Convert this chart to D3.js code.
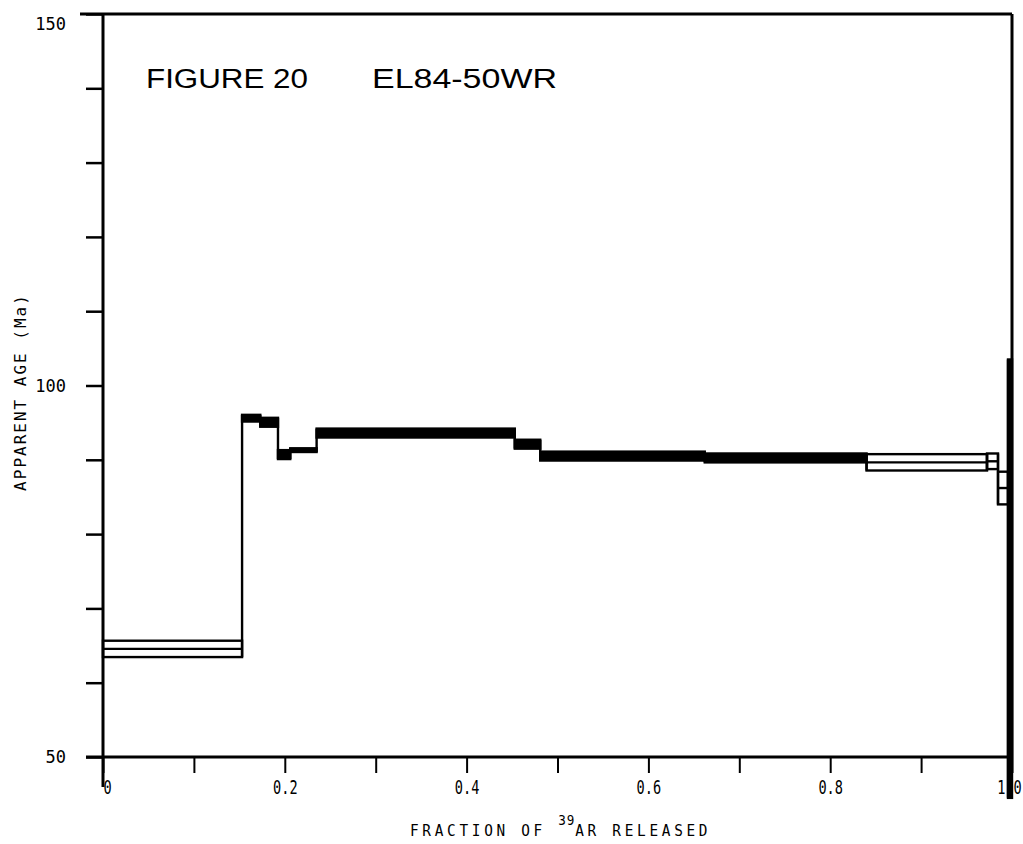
<!DOCTYPE html>
<html>
<head>
<meta charset="utf-8">
<script src="https://cdn.jsdelivr.net/npm/d3@7"></script>
<style>
  html, body { margin: 0; padding: 0; background: #fff; }
  svg { display: block; }
</style>
</head>
<body>
<div id="chart"></div>
<script>
// ---- data ----
const stepBounds = [0, 0.153, 0.173, 0.1925, 0.206, 0.235, 0.453, 0.481, 0.662, 0.840, 0.9725, 0.9846, 0.9956, 1.0];
const stepAges   = [64.55, 95.6, 95.05, 90.7, 91.3, 93.6, 92.1, 90.5, 90.25, 89.66, 89.8, 86.2, 74.0];
const stepErrors = [1.1, 0.45, 0.6, 0.6, 0.25, 0.6, 0.6, 0.6, 0.6, 1.1, 1.05, 2.2, 29.5];
const xTickValues = [0, 0.1, 0.2, 0.3, 0.4, 0.5, 0.6, 0.7, 0.8, 0.9, 1.0];
const xTickLabels = ["0", "", "0.2", "", "0.4", "", "0.6", "", "0.8", "", "1.0"];
const yTickValues = [50, 60, 70, 80, 90, 100, 110, 120, 130, 140, 150];
const yTickLabels = ["50", "", "", "", "", "100", "", "", "", "", "150"];
const figureTitle = "FIGURE 20";
const sampleName = "EL84-50WR";
const xTitleA = "FRACTION OF ";
const xTitleSup = "39";
const xTitleB = "AR RELEASED";
const yTitle = "APPARENT AGE (Ma)";

// ---- layout ----
const W = 1023, H = 844;
const svg = d3.select("#chart").append("svg").attr("width", W).attr("height", H);
const x = d3.scaleLinear().domain([0, 1]).range([103, 1012]);
const y = d3.scaleLinear().domain([50, 150]).range([757, 14]);
const mono = "'DejaVu Sans Mono', 'Liberation Mono', monospace";

// steps
const steps = stepAges.map((a, i) => ({
  x0: stepBounds[i], x1: stepBounds[i + 1], age: a, err: stepErrors[i]
}));
const g = svg.append("g").attr("stroke", "#000").attr("stroke-width", 2.4);
g.selectAll("rect.step").data(steps).join("rect")
  .attr("class", "step")
  .attr("x", d => x(d.x0)).attr("width", d => x(d.x1) - x(d.x0))
  .attr("y", d => y(d.age + d.err)).attr("height", d => y(d.age - d.err) - y(d.age + d.err))
  .attr("fill", d => {
    const h = y(d.age - d.err) - y(d.age + d.err);
    const w = x(d.x1) - x(d.x0);
    return (h < 12 || w < 6) ? "#000" : "none";
  });
g.selectAll("line.mid").data(steps).join("line")
  .attr("class", "mid")
  .attr("x1", d => x(d.x0)).attr("x2", d => x(d.x1))
  .attr("y1", d => y(d.age)).attr("y2", d => y(d.age));
// connectors between consecutive steps
const conn = steps.slice(1).map((d, i) => {
  const p = steps[i];
  return { xf: d.x0, top: Math.max(p.age + p.err, d.age + d.err), bot: Math.min(p.age - p.err, d.age - d.err) };
});
g.selectAll("line.conn").data(conn).join("line")
  .attr("class", "conn")
  .attr("x1", d => x(d.xf)).attr("x2", d => x(d.xf))
  .attr("y1", d => y(d.top)).attr("y2", d => y(d.bot));

// axes
const xAxis = d3.axisBottom(x).tickValues(xTickValues).tickSize(16).tickPadding(7)
  .tickFormat((d, i) => xTickLabels[i]);
const gx = svg.append("g").attr("transform", `translate(0,${y(50)})`).call(xAxis);
gx.attr("font-family", mono).attr("font-size", 20);
gx.select(".domain").remove();
gx.selectAll(".tick line").attr("stroke", "#000").attr("stroke-width", 2);
gx.selectAll(".tick text").attr("fill", "#000")
  .style("font-size", "20px").style("font-family", mono)
  .attr("transform", (d, i) => `translate(${i === 0 ? 4 : (i === 10 ? -3 : 0)},0) scale(0.68,1)`);

const yAxis = d3.axisLeft(y).tickValues(yTickValues).tickSize(17).tickPadding(20)
  .tickFormat((d, i) => yTickLabels[i]);
const gy = svg.append("g").attr("transform", `translate(${x(0)},0)`).call(yAxis);
gy.attr("font-family", mono).attr("font-size", 16);
gy.select(".domain").remove();
gy.selectAll(".tick line").attr("stroke", "#000").attr("stroke-width", 2.5);
gy.selectAll(".tick text").attr("fill", "#000")
  .style("font-size", "17px").style("font-family", mono)
  .attr("dy", d => d === 150 ? "0.9em" : "0.35em");

// frame
const frame = svg.append("g").attr("stroke", "#000").attr("fill", "none");
frame.append("line").attr("x1", x(0) - 23).attr("x2", x(1)).attr("y1", y(150)).attr("y2", y(150)).attr("stroke-width", 3);
frame.append("line").attr("x1", x(0)).attr("x2", x(0)).attr("y1", y(150)).attr("y2", y(50) + 30).attr("stroke-width", 3);
frame.append("line").attr("x1", x(1)).attr("x2", x(1)).attr("y1", y(150)).attr("y2", y(50)).attr("stroke-width", 3);
frame.append("line").attr("x1", x(0) - 17).attr("x2", x(1)).attr("y1", y(50)).attr("y2", y(50)).attr("stroke-width", 3);

// headings
svg.append("text").attr("x", 146).attr("y", 88).attr("font-family", "'Liberation Sans', Arial, sans-serif")
  .attr("font-size", 27).attr("textLength", 162).attr("lengthAdjust", "spacingAndGlyphs").text(figureTitle);
svg.append("text").attr("x", 372).attr("y", 88).attr("font-family", "'Liberation Sans', Arial, sans-serif")
  .attr("font-size", 27).attr("textLength", 185).attr("lengthAdjust", "spacingAndGlyphs").text(sampleName);

// x title (condensed plotter-style lettering)
const xt = svg.append("text").attr("transform", "translate(410,836) scale(0.9,1)")
  .attr("font-family", mono).attr("font-size", 16).attr("fill", "#000")
  .style("letter-spacing", "4.1px").style("white-space", "pre");
xt.append("tspan").text(xTitleA);
xt.append("tspan").attr("dy", -11).attr("font-size", 14).style("letter-spacing", "1px").text(xTitleSup);
xt.append("tspan").attr("dy", 11).text(xTitleB);

// y title
svg.append("text").attr("transform", "translate(26,392) rotate(-90)").attr("text-anchor", "middle")
  .attr("font-family", mono).attr("font-size", 16).attr("fill", "#000")
  .style("letter-spacing", "2.0px").text(yTitle);
</script>
</body>
</html>
